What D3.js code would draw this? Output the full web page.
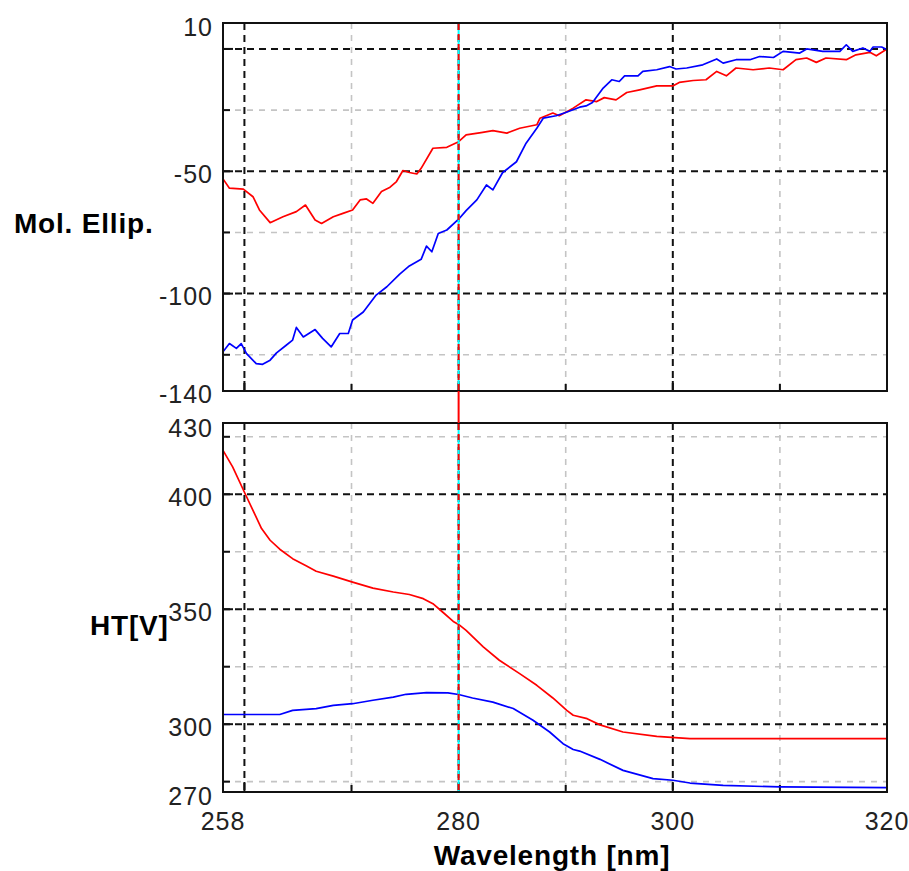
<!DOCTYPE html>
<html>
<head>
<meta charset="utf-8">
<script src="https://cdn.jsdelivr.net/npm/d3@7/dist/d3.min.js"></script>
<style>
  html, body { margin: 0; padding: 0; background: #fff; }
  svg { display: block; }
  .tick-label { font-family: "Liberation Sans", Arial, sans-serif; font-size: 25px; fill: #222; letter-spacing: 1px; }
  .title { font-family: "Liberation Sans", Arial, sans-serif; font-size: 28px; font-weight: bold; fill: #000; letter-spacing: 0.8px; }
</style>
</head>
<body>
<svg id="chart" width="909" height="871"></svg>
<script>
// ---- Wavelength axis ----
const xDomain = [258, 320];
const xTickLabels = [258, 280, 300, 320];
const xMajorGrid = [260, 280, 300];
const xMinorGrid = [270, 290, 310];
const cursorWavelength = 280;

// ---- CD panel (Mol. Ellip.) ----
const cdDomain = [-139.8, 10.6];
const cdTickLabels = [10, -50, -100, -140];
const cdMajorGrid = [0, -50, -100];
const cdMinorGrid = [-25, -75, -125];

const cdRedWl = [258, 258.6, 259.9, 260.8, 261.4, 262.4, 263.6, 264.85, 265.7, 266.6, 267.2, 268.3, 269.2, 270.1, 270.8, 271.4, 272.0, 272.8, 273.6, 274.2, 274.8, 275.4, 276.1, 276.5, 277.6, 278.9, 280.0, 280.7, 282.1, 283.2, 284.5, 285.7, 287.3, 287.6, 288.8, 289.4, 290.7, 291.9, 292.9, 293.6, 294.7, 295.7, 296.9, 298.5, 300.0, 300.6, 301.9, 303.1, 304.1, 305.0, 305.9, 307.5, 309.0, 310.3, 311.5, 312.5, 313.4, 314.3, 316.2, 317.1, 318.4, 319.0, 320];
const cdRedVal = [-53.1, -56.9, -57.3, -60.4, -65.8, -71.0, -68.6, -66.5, -63.8, -69.9, -71.3, -68.6, -67.2, -65.8, -61.7, -61.3, -63.1, -58.3, -56.5, -54.2, -49.7, -50.5, -51.1, -48.8, -40.6, -40.2, -37.9, -35.1, -34.2, -33.4, -34.4, -32.4, -31.0, -28.3, -26.2, -27.3, -24.2, -20.8, -21.5, -19.9, -20.8, -17.8, -16.7, -15.1, -15.1, -13.7, -12.9, -12.6, -9.2, -11.0, -7.8, -8.5, -7.8, -8.5, -4.4, -3.7, -5.5, -3.7, -4.4, -2.4, -1.4, -2.8, 0.0];

const cdBlueWl = [258, 258.6, 259.25, 259.7, 260.2, 261.1, 261.7, 262.4, 263.0, 263.9, 264.5, 264.85, 265.5, 266.6, 267.3, 268.1, 268.9, 269.7, 270.1, 271.1, 272.3, 273.3, 274.5, 275.4, 276.5, 277.0, 277.5, 278.1, 278.9, 280.0, 280.7, 281.7, 282.6, 283.2, 284.1, 285.4, 286.3, 287.3, 287.9, 289.1, 290.0, 291.3, 291.9, 292.5, 293.5, 294.3, 295.0, 295.5, 296.75, 297.2, 298.5, 299.7, 300.3, 301.3, 302.8, 304.1, 304.7, 305.9, 307.2, 308.1, 309.4, 310.3, 311.85, 312.5, 314.0, 315.6, 316.2, 316.8, 317.75, 318.4, 318.7, 319.5, 320];
const cdBlueVal = [-123.8, -120.4, -122.4, -120.4, -124.5, -128.6, -128.9, -127.2, -124.2, -121.1, -119.0, -113.8, -117.7, -114.7, -118.3, -121.8, -116.3, -116.3, -110.8, -107.5, -100.6, -97.2, -92.0, -88.7, -86.0, -80.6, -82.9, -75.4, -74.0, -69.6, -66.1, -61.7, -55.6, -57.6, -50.6, -46.1, -38.5, -32.4, -28.3, -27.3, -26.0, -23.8, -23.3, -21.9, -16.0, -12.6, -13.3, -11.0, -11.0, -9.2, -8.5, -7.2, -8.2, -7.8, -6.5, -4.1, -5.8, -4.4, -4.4, -3.1, -3.5, -1.0, -1.7, 0.0, -1.0, -1.0, 1.7, -1.0, 0.4, -1.0, 0.8, 0.8, -0.3];

// ---- HT panel (HT[V]) ----
const htDomain = [270.5, 431];
const htTickLabels = [430, 400, 350, 300, 270];
const htMajorGrid = [400, 350, 300];
const htMinorGrid = [425, 375, 325, 275];

const htRedWl = [258, 258.9, 260.1, 260.8, 261.6, 262.4, 263.3, 264.5, 265.8, 266.7, 268.3, 270.1, 272.0, 273.9, 275.4, 276.7, 277.6, 278.5, 279.5, 280.0, 280.7, 282.3, 283.8, 285.7, 287.3, 288.8, 290.1, 290.7, 292.0, 293.2, 295.35, 298.5, 301.6, 320];
const htRedVal = [419.1, 411.9, 399.9, 393.0, 385.1, 380.0, 376.1, 372.0, 368.8, 366.5, 364.4, 361.8, 359.2, 357.5, 356.4, 354.6, 352.4, 348.8, 344.7, 343.4, 340.8, 333.6, 327.8, 322.0, 316.9, 311.4, 306.0, 303.9, 302.4, 299.7, 296.6, 294.7, 293.7, 293.7];

const htBlueWl = [258, 263.3, 264.5, 266.7, 268.3, 270.1, 272.0, 273.9, 275.1, 277.0, 279.0, 280.0, 281.3, 283.2, 285.1, 286.95, 288.5, 289.75, 290.7, 291.3, 293.2, 295.35, 298.15, 300.0, 301.6, 304.7, 310.0, 320];
const htBlueVal = [304.2, 304.2, 306.0, 306.8, 308.2, 308.9, 310.4, 311.8, 313.0, 313.7, 313.6, 312.9, 311.4, 309.6, 306.8, 301.7, 296.6, 291.5, 289.0, 288.3, 284.7, 279.9, 276.3, 275.6, 274.4, 273.4, 272.7, 272.4];

// ---- Drawing ----
const svg = d3.select("#chart");
const left = 223, right = 887;
const panels = [
  { top: 23, bottom: 391, domain: cdDomain, labels: cdTickLabels, major: cdMajorGrid, minor: cdMinorGrid,
    series: [ { wl: cdRedWl, val: cdRedVal, color: "#ff0000" }, { wl: cdBlueWl, val: cdBlueVal, color: "#0000ff" } ],
    title: "Mol. Ellip.", titleX: 14, titleY: 233 },
  { top: 423, bottom: 792, domain: htDomain, labels: htTickLabels, major: htMajorGrid, minor: htMinorGrid,
    series: [ { wl: htRedWl, val: htRedVal, color: "#ff0000" }, { wl: htBlueWl, val: htBlueVal, color: "#0000ff" } ],
    title: "HT[V]", titleX: 90, titleY: 635 }
];

const x = d3.scaleLinear().domain(xDomain).range([left, right]);

panels.forEach((p, i) => {
  const y = d3.scaleLinear().domain(p.domain).range([p.bottom, p.top]);
  const g = svg.append("g");
  const clipId = "clip" + i;
  svg.append("clipPath").attr("id", clipId)
    .append("rect").attr("x", left).attr("y", p.top).attr("width", right - left).attr("height", p.bottom - p.top);

  // minor grid (light gray dashes)
  g.selectAll(".hminor").data(p.minor).join("line")
    .attr("x1", left).attr("x2", right).attr("y1", d => y(d)).attr("y2", d => y(d))
    .attr("stroke", "#c4c4c4").attr("stroke-width", 1.6).attr("stroke-dasharray", "6,6");
  g.selectAll(".vminor").data(xMinorGrid).join("line")
    .attr("x1", d => x(d)).attr("x2", d => x(d)).attr("y1", p.top).attr("y2", p.bottom)
    .attr("stroke", "#c4c4c4").attr("stroke-width", 1.6).attr("stroke-dasharray", "6,6");
  // major grid (black dashes)
  g.selectAll(".hmajor").data(p.major).join("line")
    .attr("x1", left).attr("x2", right).attr("y1", d => y(d)).attr("y2", d => y(d))
    .attr("stroke", "#111").attr("stroke-width", 2).attr("stroke-dasharray", "7,5");
  g.selectAll(".vmajor").data(xMajorGrid).join("line")
    .attr("x1", d => x(d)).attr("x2", d => x(d)).attr("y1", p.top).attr("y2", p.bottom)
    .attr("stroke", "#111").attr("stroke-width", 2).attr("stroke-dasharray", "7,5");

  // tick marks on left and bottom axes
  g.selectAll(".ytm").data(p.major).join("line")
    .attr("x1", left).attr("x2", left + 10).attr("y1", d => y(d)).attr("y2", d => y(d))
    .attr("stroke", "#111").attr("stroke-width", 2);
  g.selectAll(".ytn").data(p.minor).join("line")
    .attr("x1", left).attr("x2", left + 7).attr("y1", d => y(d)).attr("y2", d => y(d))
    .attr("stroke", "#111").attr("stroke-width", 2);
  g.selectAll(".xtm").data(xMajorGrid).join("line")
    .attr("x1", d => x(d)).attr("x2", d => x(d)).attr("y1", p.bottom).attr("y2", p.bottom - 10)
    .attr("stroke", "#111").attr("stroke-width", 2);
  g.selectAll(".xtn").data(xMinorGrid).join("line")
    .attr("x1", d => x(d)).attr("x2", d => x(d)).attr("y1", p.bottom).attr("y2", p.bottom - 7)
    .attr("stroke", "#111").attr("stroke-width", 2);

  // data curves
  const line = d3.line().x(d => x(d[0])).y(d => y(d[1]));
  p.series.forEach(s => {
    g.append("path")
      .attr("d", line(s.wl.map((w, k) => [w, s.val[k]])))
      .attr("clip-path", `url(#${clipId})`)
      .attr("fill", "none").attr("stroke", s.color).attr("stroke-width", 1.7)
      .attr("stroke-linejoin", "round");
  });

  // frame
  g.append("rect").attr("x", left).attr("y", p.top).attr("width", right - left).attr("height", p.bottom - p.top)
    .attr("fill", "none").attr("stroke", "#111").attr("stroke-width", 2);

  // y tick labels
  g.selectAll(".ylab").data(p.labels).join("text")
    .attr("class", "tick-label")
    .attr("x", left - 10).attr("y", d => y(d) + 11.5)
    .attr("text-anchor", "end").text(d => d);

  // axis title
  svg.append("text").attr("class", "title").attr("x", p.titleX).attr("y", p.titleY).text(p.title);
});

// cursor at the selected wavelength: red between the panels, cyan with red dashes inside the plots
const cx = x(cursorWavelength);
svg.append("line").attr("x1", cx).attr("x2", cx).attr("y1", panels[0].bottom).attr("y2", panels[1].top)
  .attr("stroke", "#ff0000").attr("stroke-width", 2);
panels.forEach(p => {
  svg.append("line").attr("x1", cx).attr("x2", cx).attr("y1", p.top + 1).attr("y2", p.bottom - 1)
    .attr("stroke", "#00ffff").attr("stroke-width", 2);
  svg.append("line").attr("x1", cx).attr("x2", cx).attr("y1", p.top + 1).attr("y2", p.bottom - 1)
    .attr("stroke", "#ff0000").attr("stroke-width", 2).attr("stroke-dasharray", "6,4");
});

// x tick labels
svg.selectAll(".xlab").data(xTickLabels).join("text")
  .attr("class", "tick-label")
  .attr("x", d => x(d)).attr("y", 830)
  .attr("text-anchor", "middle").text(d => d);

svg.append("text").attr("class", "title")
  .attr("x", (left + right) / 2 - 3).attr("y", 865).attr("text-anchor", "middle")
  .text("Wavelength [nm]");
</script>
</body>
</html>
